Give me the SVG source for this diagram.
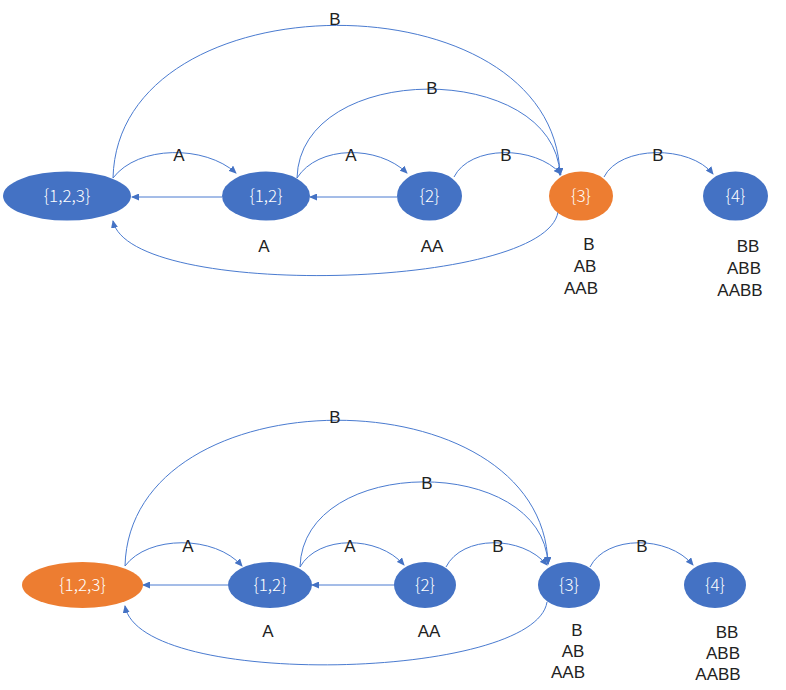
<svg xmlns="http://www.w3.org/2000/svg" width="786" height="690" viewBox="0 0 786 690">
<style>
.blue{fill:#4472C4}
.orange{fill:#ED7D31}
.nt{font-family:"Noto Sans CJK SC","Noto Sans","Liberation Sans",sans-serif;font-size:17px;fill:#fff;text-anchor:middle;font-weight:300}
.lb{font-family:"Liberation Sans","Noto Sans",sans-serif;font-size:17px;fill:#222;text-anchor:middle}
.e{fill:none;stroke:#4A7BD0;stroke-width:1;marker-end:url(#ah)}
</style>
<defs>
<marker id="ah" markerUnits="userSpaceOnUse" markerWidth="8" markerHeight="7" refX="7" refY="3.5" orient="auto">
<path d="M0,0 L8,3.5 L0,7 z" fill="#4472C4"/>
</marker>
</defs>
<g id="connectors">
<path class="e" d="M113,178 C138,145 205,145 236,173"/>
<path class="e" d="M222,197 L132,197"/>
<path class="e" d="M397,197 L310,197"/>
<path class="e" d="M297,178 C318,145 378,145 407,173"/>
<path class="e" d="M454,177 C470,145 535,145 561,174"/>
<path class="e" d="M604,177 C620,145 690,145 713,174"/>
<path class="e" d="M113,178 C118,-25 555,-25 560,175"/>
<path class="e" d="M297,178 C300,60 555,60 560,175"/>
<path class="e" d="M558,212 C545,290 130,300 113,221"/>
<path class="e" d="M125,566 C148,535 215,535 242,566"/>
<path class="e" d="M228,585 L143,585"/>
<path class="e" d="M394,585 L312,585"/>
<path class="e" d="M300,567 C318,535 378,535 404,565"/>
<path class="e" d="M446,567 C462,535 522,535 547,565"/>
<path class="e" d="M590,567 C606,535 668,535 693,565"/>
<path class="e" d="M125,566 C130,372 543,372 548,564"/>
<path class="e" d="M300,567 C303,454 543,454 548,564"/>
<path class="e" d="M547,602 C535,680 140,690 125,606"/>
</g>
<g id="edge-labels">
<text class="lb" x="179" y="161">A</text>
<text class="lb" x="351" y="161">A</text>
<text class="lb" x="506" y="161">B</text>
<text class="lb" x="658" y="161">B</text>
<text class="lb" x="335" y="25">B</text>
<text class="lb" x="432" y="94">B</text>
<text class="lb" x="188" y="552">A</text>
<text class="lb" x="350" y="552">A</text>
<text class="lb" x="498" y="552">B</text>
<text class="lb" x="642" y="552">B</text>
<text class="lb" x="335" y="423">B</text>
<text class="lb" x="427" y="489">B</text>
</g>
<g id="t123"><ellipse class="blue" cx="67" cy="196" rx="64" ry="24.5"/><text class="nt" x="67" y="202">{1,2,3}</text></g>
<g id="t12"><ellipse class="blue" cx="266" cy="196" rx="44" ry="24.5"/><text class="nt" x="266" y="202">{1,2}</text><text class="lb" x="264" y="252">A</text></g>
<g id="t2"><ellipse class="blue" cx="429.5" cy="196" rx="32.5" ry="24.5"/><text class="nt" x="429.5" y="202">{2}</text><text class="lb" x="432" y="252">AA</text></g>
<g id="t3"><ellipse class="orange" cx="581" cy="196" rx="32" ry="24.5"/><text class="nt" x="581" y="202">{3}</text><text class="lb" x="589" y="250">B</text><text class="lb" x="585" y="272">AB</text><text class="lb" x="581" y="294">AAB</text></g>
<g id="t4"><ellipse class="blue" cx="735.5" cy="196" rx="32.5" ry="24.5"/><text class="nt" x="735.5" y="202">{4}</text><text class="lb" x="748" y="252">BB</text><text class="lb" x="744" y="274">ABB</text><text class="lb" x="740" y="296">AABB</text></g>
<g id="b123"><ellipse class="orange" cx="82.5" cy="585" rx="60.5" ry="23"/><text class="nt" x="82.5" y="591">{1,2,3}</text></g>
<g id="b12"><ellipse class="blue" cx="270" cy="585" rx="42" ry="23"/><text class="nt" x="270" y="591">{1,2}</text><text class="lb" x="268" y="637">A</text></g>
<g id="b2"><ellipse class="blue" cx="425" cy="585" rx="31" ry="23"/><text class="nt" x="425" y="591">{2}</text><text class="lb" x="429" y="637">AA</text></g>
<g id="b3"><ellipse class="blue" cx="569" cy="585" rx="31" ry="23"/><text class="nt" x="569" y="591">{3}</text><text class="lb" x="577" y="636">B</text><text class="lb" x="573" y="657">AB</text><text class="lb" x="568" y="678">AAB</text></g>
<g id="b4"><ellipse class="blue" cx="715" cy="585" rx="31" ry="23"/><text class="nt" x="715" y="591">{4}</text><text class="lb" x="727" y="638">BB</text><text class="lb" x="723" y="659">ABB</text><text class="lb" x="718" y="680">AABB</text></g>
</svg>
